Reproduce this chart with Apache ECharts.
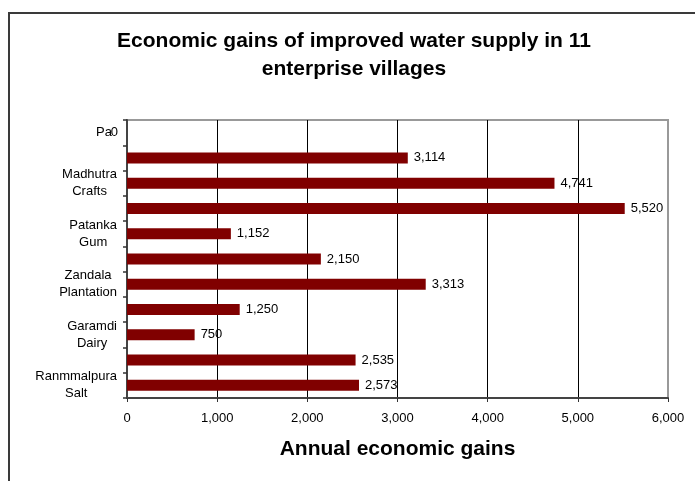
<!DOCTYPE html>
<html>
<head>
<meta charset="utf-8">
<script src="https://cdn.jsdelivr.net/npm/echarts@6/dist/echarts.min.js"></script>
<style>
  html, body { margin: 0; padding: 0; background: #fff; }
  #chart { width: 695px; height: 481px; }
</style>
</head>
<body>
<div id="chart"></div>
<script>
// Villages, top to bottom; only every other row carries a name on the axis
const villages = [
  'Pa', '', 'Madhutra Crafts', '', 'Patanka Gum', '',
  'Zandala Plantation', '', 'Garamdi Dairy', '', 'Ranmmalpura Salt'
];
// Annual economic gains per village
const gains = [0, 3114, 4741, 5520, 1152, 2150, 3313, 1250, 750, 2535, 2573];
// Value axis ticks
const gainTicks = [0, 1000, 2000, 3000, 4000, 5000, 6000];

const FONT = '"Liberation Sans", Arial, sans-serif';
const fmt = v => Number(v).toLocaleString('en-US');

const chart = echarts.init(document.getElementById('chart'), null, { renderer: 'canvas' });

chart.setOption({
  backgroundColor: '#fff',
  animation: false,
  textStyle: { fontFamily: FONT },
  graphic: [{
    type: 'rect',
    silent: true,
    shape: { x: 9, y: 13, width: 760, height: 560 },
    style: { fill: 'none', stroke: '#3a3a3a', lineWidth: 2 },
    z: -1
  }],
  title: {
    text: 'Economic gains of improved water supply in 11\nenterprise villages',
    left: 349,
    top: 22,
    textAlign: 'center',
    textStyle: {
      fontFamily: FONT,
      fontSize: 21,
      fontWeight: 'bold',
      color: '#000',
      lineHeight: 28
    }
  },
  grid: {
    left: 127,
    top: 120,
    right: 27,
    bottom: 83,
    show: true,
    borderColor: '#999',
    borderWidth: 2,
    backgroundColor: '#fff'
  },
  xAxis: {
    type: 'value',
    min: gainTicks[0],
    max: gainTicks[gainTicks.length - 1],
    interval: gainTicks[1] - gainTicks[0],
    name: 'Annual economic gains',
    nameLocation: 'middle',
    nameGap: 41,
    nameTextStyle: { fontFamily: FONT, fontSize: 21, fontWeight: 'bold', color: '#000' },
    axisLine: { show: true, lineStyle: { color: '#444', width: 2 } },
    axisTick: { show: true, length: 4, lineStyle: { color: '#333' } },
    axisLabel: { fontFamily: FONT, fontSize: 13, color: '#000', margin: 14, formatter: fmt },
    splitLine: {
      show: true,
      showMinLine: false,
      showMaxLine: false,
      lineStyle: { color: '#000', width: 1 }
    }
  },
  yAxis: {
    type: 'category',
    inverse: true,
    data: villages,
    axisLine: { show: true, lineStyle: { color: '#444', width: 2 } },
    axisTick: { show: true, interval: 0, length: 4, lineStyle: { color: '#333', width: 1.5 } },
    axisLabel: {
      interval: 1,
      margin: 10,
      fontFamily: FONT,
      fontSize: 13,
      color: '#000',
      formatter: (name) => {
        if (name.indexOf(' ') < 0) return '{p|' + name + '}';
        return name.split(' ').map(w => '{c|' + w + '}').join('\n');
      },
      rich: {
        c: { align: 'center', fontFamily: FONT, fontSize: 13, lineHeight: 17, color: '#000' },
        p: { fontFamily: FONT, fontSize: 13, lineHeight: 17, color: '#000', padding: [0, 5, 0, 0] }
      }
    },
    splitLine: { show: false }
  },
  series: [{
    type: 'bar',
    barWidth: 11,
    itemStyle: { color: '#800000' },
    label: {
      show: true,
      position: 'right',
      distance: 6,
      fontFamily: FONT,
      fontSize: 13,
      color: '#000',
      formatter: p => fmt(p.value)
    },
    data: gains.map(v => v === 0
      ? { value: v, label: { position: 'left', distance: 9 } }
      : v)
  }]
});
</script>
</body>
</html>
